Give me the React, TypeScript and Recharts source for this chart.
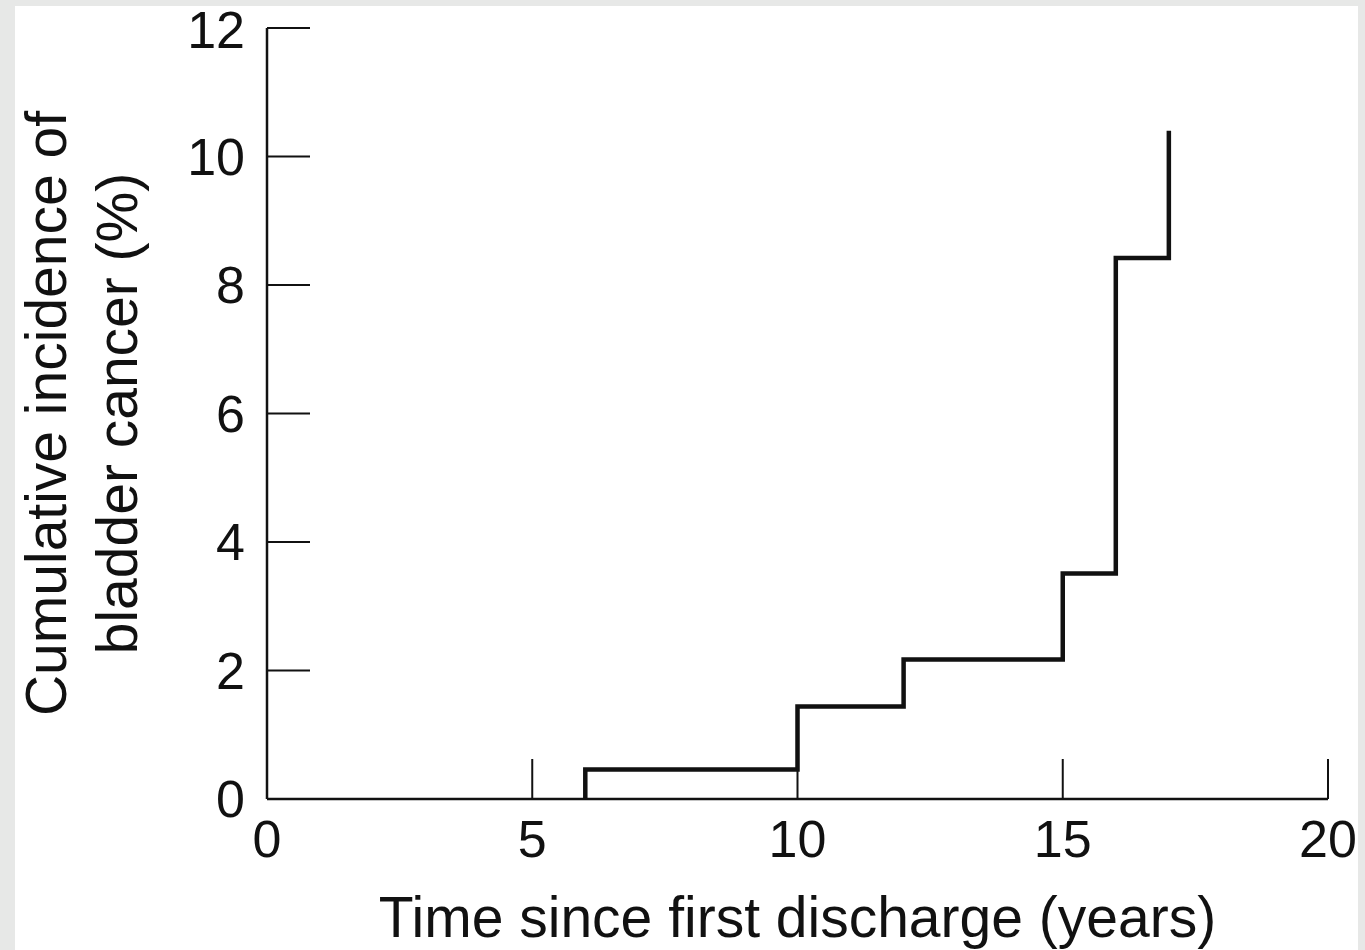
import { LineChart, Line, XAxis, YAxis, Label } from 'recharts';

// Kaplan-Meier style cumulative incidence
const years = [6, 6, 10, 12, 15, 16, 17];
const incidence = [0, 0.46, 1.44, 2.17, 3.51, 8.42, 10.4];

const xTicks = [0, 5, 10, 15, 20];
const yTicks = [0, 2, 4, 6, 8, 10, 12];

const xTitle = 'Time since first discharge (years)';
const yTitleLines = ['Cumulative incidence of', 'bladder cancer (%)'];

const data = years.map((t, i) => ({ t, pct: incidence[i] }));

const FONT = '"Liberation Sans", Arial, sans-serif';
const INK = '#111';

const YTitle = (props: any) => {
  const vb = props.viewBox || {};
  const cy = vb.y + vb.height / 2;
  const xs = [66, 137];
  return (
    <g>
      {yTitleLines.map((line, i) => (
        <text
          key={line}
          x={xs[i]}
          y={cy}
          transform={`rotate(-90, ${xs[i]}, ${cy})`}
          textAnchor="middle"
          fontFamily={FONT}
          fontSize={57}
          fill={INK}
        >
          {line}
        </text>
      ))}
    </g>
  );
};

export default function App() {
  return (
    <div style={{ position: 'fixed', left: 0, top: 0, width: 1365, height: 950, background: '#e7e8e7' }}>
      <div
        style={{
          position: 'absolute',
          left: 15,
          top: 6,
          width: 1343,
          height: 944,
          background: '#fff',
        }}
      />
      <div style={{ position: 'absolute', left: 0, top: 0 }}>
        <LineChart
          width={1365}
          height={950}
          data={data}
          margin={{ top: 28, right: 37, bottom: 0, left: 207 }}
        >
          <XAxis
            dataKey="t"
            type="number"
            domain={[0, 20]}
            ticks={xTicks}
            height={151}
            axisLine={{ stroke: INK, strokeWidth: 2.5 }}
            tickLine={{ stroke: INK, strokeWidth: 2 }}
            tickSize={-40}
            tickMargin={61}
            tick={{ fill: INK, fontSize: 52, fontFamily: FONT }}
          >
            <Label
              value={xTitle}
              position="insideBottom"
              offset={13}
              fill={INK}
              fontSize={57}
              fontFamily={FONT}
            />
          </XAxis>
          <YAxis
            type="number"
            domain={[0, 12]}
            ticks={yTicks}
            width={60}
            axisLine={{ stroke: INK, strokeWidth: 2.5 }}
            tickLine={{ stroke: INK, strokeWidth: 2 }}
            tickSize={-43}
            tickMargin={65}
            tick={{ fill: INK, fontSize: 52, fontFamily: FONT }}
          >
            <Label content={YTitle} />
          </YAxis>
          <Line
            type="stepAfter"
            dataKey="pct"
            stroke={INK}
            strokeWidth={4.5}
            dot={false}
            activeDot={false}
            isAnimationActive={false}
          />
        </LineChart>
      </div>
    </div>
  );
}
